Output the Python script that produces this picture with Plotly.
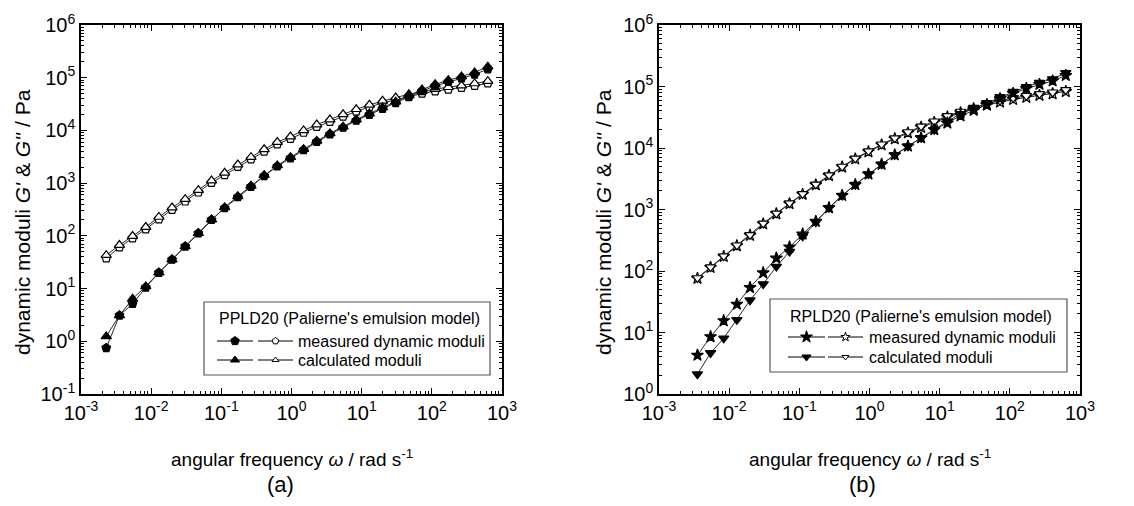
import plotly.graph_objects as go

W, H = 1134, 506
OFF = 8  # page body margin of the html page

# ---------------- data ----------------
# panel (a) PPLD20
x_a = [0.00229, 0.00353, 0.00543, 0.00837, 0.01288, 0.01984, 0.03055, 0.04703, 0.07244, 0.1115,
       0.1718, 0.2645, 0.4074, 0.6273, 0.9661, 1.488, 2.291, 3.528, 5.433, 8.366,
       12.88, 19.84, 30.55, 47.04, 72.44, 111.5, 171.8, 264.5, 407.4, 627.3]
a_Gp_meas = [0.746, 3.09, 5.13, 10.5, 20.0, 35.5, 63.1, 112, 202, 337,
             546, 855, 1365, 2080, 2980, 4250, 6100, 8430, 11300, 15400,
             19900, 25800, 33300, 43200, 55800, 69800, 83400, 97500, 115300, 145000]
a_Gp_calc = [1.24, 3.09, 6.4, 11.0, 20.0, 35.5, 63.1, 112, 204, 347,
             562, 891, 1420, 2170, 3100, 4420, 6340, 8800, 11800, 16100,
             20900, 27200, 35200, 45800, 59500, 75000, 90000, 106000, 126000, 162000]
a_Gpp_meas = [37.6, 60.8, 90.4, 134, 207, 313, 451, 668, 1020, 1426,
              2046, 2831, 3981, 5470, 6950, 9100, 11700, 14650, 18400, 22950,
              27800, 33200, 38300, 44000, 50000, 55500, 60000, 64400, 70600, 78300]
a_Gpp_calc = [43, 67, 99, 147, 228, 344, 496, 735, 1120, 1570,
              2250, 3110, 4380, 6020, 7650, 10000, 12900, 16100, 20200, 25200,
              30600, 36500, 42100, 48400, 55000, 61000, 66000, 71000, 77700, 86000]

# panel (b) RPLD20
x_b = [0.00353, 0.00543, 0.00837, 0.01288, 0.01984, 0.03055, 0.04703, 0.07244, 0.1115,
       0.1718, 0.2645, 0.4074, 0.6273, 0.9661, 1.488, 2.291, 3.528, 5.433, 8.366,
       12.88, 19.84, 30.55, 47.04, 72.44, 111.5, 171.8, 264.5, 407.4, 627.3]
b_Gp_meas = [4.27, 8.51, 15.5, 28.8, 53.7, 93.3, 162, 245, 398,
             640, 1066, 1690, 2530, 3760, 5420, 7710, 10700, 14600, 19800,
             25400, 33400, 40900, 50700, 63200, 77300, 92500, 108000, 123000, 151000]
b_Gp_calc = [2.10, 4.65, 8.07, 16.1, 33.5, 61.2, 118, 207, 366,
             622, 1066, 1690, 2530, 3760, 5420, 7710, 10700, 14600, 19800,
             27200, 35800, 43900, 54300, 67800, 82800, 99100, 116000, 132000, 166000]
b_Gpp_meas = [75.9, 114, 172, 257, 380, 582, 851, 1240, 1760,
              2510, 3560, 4900, 6620, 8670, 11200, 14100, 17600, 21700, 26100,
              31800, 37400, 43300, 49500, 55700, 61400, 66700, 71600, 76000, 82800]
b_Gpp_calc = [77, 116, 175, 262, 388, 594, 868, 1265, 1800,
              2560, 3630, 5000, 6780, 8900, 11500, 14500, 18200, 22500, 27200,
              33200, 39200, 45500, 52200, 58900, 65100, 70700, 75900, 80600, 88000]

x_ticks = [-3, -2, -1, 0, 1, 2, 3]
ya_ticks = [-1, 0, 1, 2, 3, 4, 5, 6]
yb_ticks = [0, 1, 2, 3, 4, 5, 6]

legend_a_title = "PPLD20 (Palierne's emulsion model)"
legend_b_title = "RPLD20 (Palierne's emulsion model)"
legend_rows = ["measured dynamic moduli", "calculated moduli"]
panel_labels = ["(a)", "(b)"]

FONT = "Liberation Sans, Arial, sans-serif"
LINE = "#2a2a2a"

fig = go.Figure()


def add_series(x, y, xa, ya, symbol, filled, size=9):
    fig.add_trace(go.Scatter(
        x=x, y=y, xaxis=xa, yaxis=ya, mode="lines+markers",
        line=dict(color=LINE, width=1),
        marker=dict(symbol=symbol, size=size,
                    color="black" if filled else "white",
                    line=dict(color="black", width=1.2)),
        showlegend=False, hoverinfo="skip"))


# panel a
add_series(x_a, a_Gpp_meas, "x", "y", "pentagon", False, 9)
add_series(x_a, a_Gpp_calc, "x", "y", "triangle-up", False, 9)
add_series(x_a, a_Gp_meas, "x", "y", "pentagon", True, 9)
add_series(x_a, a_Gp_calc, "x", "y", "triangle-up", True, 9)
# panel b
add_series(x_b, b_Gpp_meas, "x2", "y2", "star", False, 9)
add_series(x_b, b_Gpp_calc, "x2", "y2", "triangle-down", False, 9)
add_series(x_b, b_Gp_meas, "x2", "y2", "star", True, 9)
add_series(x_b, b_Gp_calc, "x2", "y2", "triangle-down", True, 9)


def px(xp):
    return (xp - OFF) / W


def py(yp):
    return 1 - (yp - OFF) / H


def sup_labels(vals):
    return ["10<sup>%d</sup>" % v for v in vals]


def log_axis(domain, rng, ticks, anchor):
    return dict(type="log", domain=domain, range=rng, anchor=anchor, automargin=False,
                tickvals=[10 ** t for t in ticks], ticktext=sup_labels(ticks),
                ticks="inside", ticklen=6, tickwidth=1.3, tickcolor="black",
                minor=dict(ticks="inside", ticklen=3, tickwidth=1, tickcolor="black",
                           dtick="D1", showgrid=False),
                showline=True, linecolor="black", linewidth=1.6, mirror="ticks",
                showgrid=False, zeroline=False,
                tickfont=dict(family=FONT, size=20, color="black"))


ax_a = [px(81), px(502)]
ax_b = [px(659), px(1080)]
ydom = [py(394), py(25)]

xa = log_axis(ax_a, [-3, 3], x_ticks, "y")
xb = log_axis(ax_b, [-3, 3], x_ticks, "y2")
ya = log_axis(ydom, [-1, 6], ya_ticks, "x")
yb = log_axis(ydom, [0, 6], yb_ticks, "x2")

# overlay axis in page-pixel coordinates for legend swatches
xo = dict(domain=[0, 1], range=[OFF, W + OFF], visible=False, anchor="y3", fixedrange=True, automargin=False)
yo = dict(domain=[0, 1], range=[H + OFF, OFF], visible=False, anchor="x3", fixedrange=True, automargin=False)

shapes = []
annotations = []

xtitle = "angular frequency <i>\u03c9</i> / rad s<sup>-1</sup>"
ytitle = "dynamic moduli <i>G'</i> &amp; <i>G''</i> / Pa"

for cx in (291.5, 869.5):
    annotations.append(dict(text=xtitle, x=px(cx), y=py(458), xref="paper", yref="paper",
                            xanchor="center", yanchor="middle", showarrow=False,
                            font=dict(family=FONT, size=19, color="black")))
for cx in (22, 603):
    annotations.append(dict(text=ytitle, x=px(cx), y=py(222), xref="paper", yref="paper",
                            xanchor="center", yanchor="middle", showarrow=False, textangle=-90,
                            font=dict(family=FONT, size=21, color="black")))
for lab, cx in zip(panel_labels, (280, 862)):
    annotations.append(dict(text=lab, x=px(cx), y=py(484), xref="paper", yref="paper",
                            xanchor="center", yanchor="middle", showarrow=False,
                            font=dict(family=FONT, size=22, color="black")))


def build_legend(box, title, row_y, sw1, sw2, text_x, syms, sizes):
    x0, y0, x1, y1 = box
    shapes.append(dict(type="rect", xref="paper", yref="paper",
                       x0=px(x0), x1=px(x1), y0=py(y1), y1=py(y0),
                       line=dict(color="#555555", width=1.2), fillcolor="white", layer="below"))
    annotations.append(dict(text=title, x=px(sw1[0]), y=py(row_y[0]), xref="paper", yref="paper",
                            xanchor="left", yanchor="middle", showarrow=False,
                            font=dict(family=FONT, size=16, color="black")))
    for i, lab in enumerate(legend_rows):
        yy = row_y[i + 1]
        for (s0, s1), filled in ((sw1, True), (sw2, False)):
            fig.add_trace(go.Scatter(x=[s0, s1], y=[yy, yy], xaxis="x3", yaxis="y3", mode="lines",
                                     line=dict(color="black", width=1), showlegend=False, hoverinfo="skip"))
            fig.add_trace(go.Scatter(x=[(s0 + s1) / 2], y=[yy], xaxis="x3", yaxis="y3", mode="markers",
                                     marker=dict(symbol=syms[i], size=sizes[i] if filled else sizes[i] - 2,
                                                 color="black" if filled else "white",
                                                 line=dict(color="black", width=1)),
                                     showlegend=False, hoverinfo="skip"))
        annotations.append(dict(text=lab, x=px(text_x), y=py(yy), xref="paper", yref="paper",
                                xanchor="left", yanchor="middle", showarrow=False,
                                font=dict(family=FONT, size=16, color="black")))


build_legend((204, 302, 490, 375), legend_a_title, (318, 341, 360), (217, 253), (258, 293), 296,
             ["pentagon", "triangle-up"], [9, 8])
build_legend((770, 299, 1067, 372), legend_b_title, (316, 337, 357), (788, 825), (828, 863), 867,
             ["star", "triangle-down"], [9, 8])

fig.update_layout(
    width=W, height=H, margin=dict(l=0, r=0, t=0, b=0, autoexpand=False),
    paper_bgcolor="white", plot_bgcolor="rgba(0,0,0,0)",
    xaxis=xa, yaxis=ya, xaxis2=xb, yaxis2=yb, xaxis3=xo, yaxis3=yo,
    shapes=shapes, annotations=annotations, showlegend=False,
    font=dict(family=FONT, color="black"))

fig.write_html("out.html")
